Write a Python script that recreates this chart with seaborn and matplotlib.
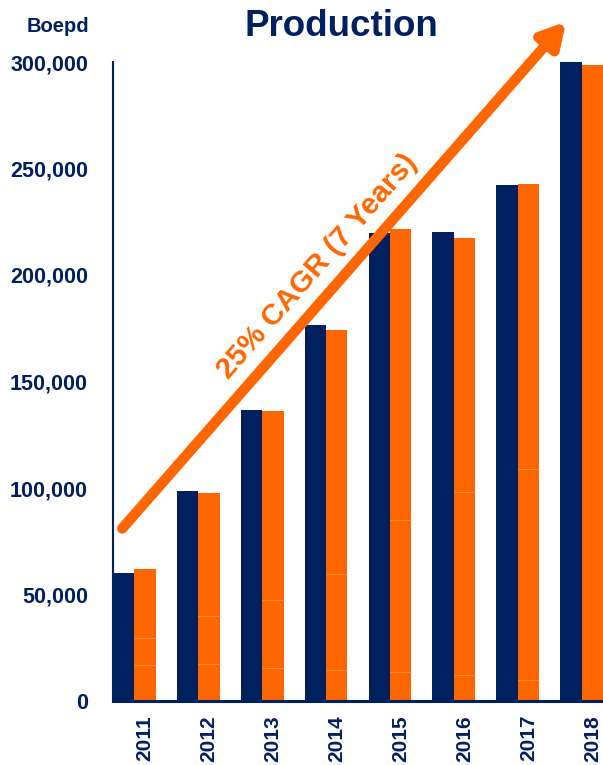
import matplotlib
matplotlib.use("Agg")
import matplotlib.pyplot as plt
import pandas as pd
import seaborn as sns

# Daily production (boe per day) for the two series
years = ["2011", "2012", "2013", "2014", "2015", "2016", "2017", "2018"]
series_1 = [60100, 98600, 136600, 176500, 219700, 220200, 242300, 300500]
series_2 = [62000, 97700, 136200, 174200, 221600, 217400, 242700, 298600]

# Component split inside the second series (cumulative boundaries from the base)
series_2_base = [16900, 17400, 15500, 14600, 13600, 12200, 9900, 0]
series_2_mid = [29600, 39900, 47400, 59600, 85000, 98000, 109000, 0]

y_ticks = [0, 50000, 100000, 150000, 200000, 250000, 300000]
title = "Production"
unit_label = "Boepd"
trend_label = "25% CAGR (7 Years)"

NAVY = "#002060"
ORANGE = "#FF6600"
SEAM = "#FF8A45"

sns.set_style("white")
plt.rcParams["font.family"] = ["Liberation Sans", "DejaVu Sans"]
plt.rcParams["font.weight"] = "bold"

df = pd.DataFrame({
    "year": years * 2,
    "boepd": series_1 + series_2,
    "series": ["series_1"] * len(years) + ["series_2"] * len(years),
})

fig = plt.figure(figsize=(6.03, 7.65), dpi=100)
ax = fig.add_axes([113 / 603, 1 - 701 / 765, 1 - 113 / 603, (701 - 62) / 765])

sns.barplot(
    data=df, x="year", y="boepd", hue="series",
    hue_order=["series_1", "series_2"],
    palette=[NAVY, ORANGE], width=0.67, gap=0, dodge=True,
    saturation=1, legend=False, errorbar=None, ax=ax,
    edgecolor="none", linewidth=0,
)

# faint seams between the stacked components of the second series
for patch, b, m in zip(ax.containers[1].patches, series_2_base, series_2_mid):
    x0, w = patch.get_x(), patch.get_width()
    for level in (b, m):
        if level > 0:
            ax.hlines(level, x0, x0 + w, color=SEAM, lw=0.7, zorder=3)

bar_w = ax.containers[0].patches[0].get_width()
ax.set_xlim(-bar_w, len(years) - 1 + bar_w)
ax.set_ylim(0, 300000)
ax.set_yticks(y_ticks)
ax.set_yticklabels([f"{v:,}" for v in y_ticks])
ax.set_xticks([i + bar_w / 2 for i in range(len(years))])
ax.set_xticklabels(years, rotation=90)
ax.set_xlabel("")
ax.set_ylabel("")

ax.tick_params(axis="y", length=0, pad=18, labelsize=15.5, labelcolor=NAVY)
ax.tick_params(axis="x", length=0, pad=10, labelsize=15, labelcolor=NAVY)
for lab in ax.get_xticklabels() + ax.get_yticklabels():
    lab.set_fontweight("bold")

for side in ("top", "right"):
    ax.spines[side].set_visible(False)
ax.spines["left"].set_color(NAVY)
ax.spines["left"].set_linewidth(1.5)
ax.spines["bottom"].set_color(NAVY)
ax.spines["bottom"].set_linewidth(2.2)

# growth arrow and label
ax.annotate(
    "", xy=(6.76, 319000), xytext=(-0.19, 81000),
    arrowprops=dict(arrowstyle="-|>,head_length=1.0,head_width=0.55",
                    lw=7.5, color=ORANGE, capstyle="round",
                    shrinkA=0, shrinkB=0, mutation_scale=14),
    annotation_clip=False, zorder=4,
)
ax.text(2.86, 204000, trend_label, rotation=48.8, rotation_mode="anchor",
        ha="center", va="center", color=ORANGE, fontsize=21.5,
        fontweight="bold", zorder=5)

fig.text(341 / 603, 1 - 27 / 765, title, ha="center", va="center",
         color=NAVY, fontsize=26.5, fontweight="bold")
fig.text(89 / 603, 1 - 26 / 765, unit_label, ha="right", va="center",
         color=NAVY, fontsize=14.5, fontweight="bold")

fig.savefig("out.png", dpi=100)
